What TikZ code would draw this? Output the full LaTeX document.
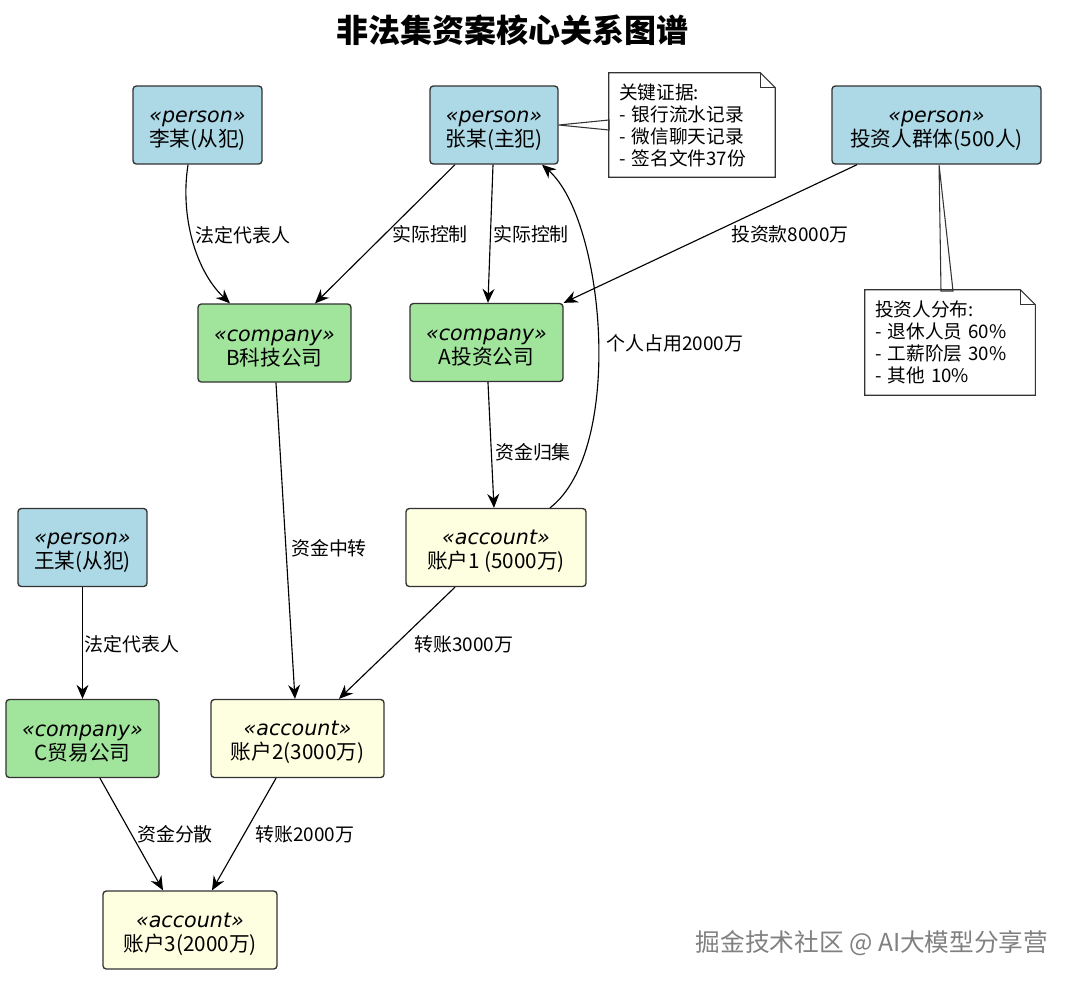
\documentclass[tikz,border=0pt]{standalone}
\usepackage{fontspec}
\setmainfont{DejaVu Sans}
\newfontfamily\cjk{Noto Sans CJK SC}
\usetikzlibrary{arrows.meta}
\definecolor{personfill}{HTML}{ADD8E6}
\definecolor{companyfill}{HTML}{A1E49C}
\definecolor{accountfill}{HTML}{FEFEE0}
\definecolor{boxline}{HTML}{333333}
\tikzset{
  box/.style={draw=boxline, line width=1pt, rounded corners=2.5pt, align=center,
    inner sep=0pt, minimum height=58.5pt, font=\fontsize{15.5}{18}\selectfont},
  personbox/.style={box, fill=personfill},
  companybox/.style={box, fill=companyfill},
  accountbox/.style={box, fill=accountfill},
  wpx/.style={minimum width=#1*0.75pt},
  notebox/.style={align=left, inner xsep=7.5pt, inner ysep=0pt,
    font=\cjk\fontsize{14}{16.5}\selectfont},
  notefrm/.style={draw=boxline, line width=0.8pt, fill=white},
  lbl/.style={font=\cjk\fontsize{14.2}{16}\selectfont, inner sep=0pt},
  link/.style={line width=0.85pt, -{Stealth[length=10.5pt,width=9pt,inset=3.5pt]}},
}
\newcommand{\stereo}[1]{\rule{0pt}{17pt}{\itshape «#1»}}
\begin{document}
\begin{tikzpicture}[x=0.75pt,y=-0.75pt]
  \useasboundingbox (0,0) rectangle (1080,983);
  \node[font=\cjk\bfseries\fontsize{24}{28}\selectfont] (title) at (512,30) {非法集资案核心关系图谱};
  % people
  \node[personbox, wpx=129] (li) at (197.5,125) {\stereo{person}\\{\cjk 李某(从犯)}};
  \node[personbox, wpx=128] (zhang) at (494,125) {\stereo{person}\\{\cjk 张某(主犯)}};
  \node[personbox, wpx=209] (inv) at (936.5,125) {\stereo{person}\\{\cjk 投资人群体(500人)}};
  \node[personbox, wpx=129] (wang) at (82.5,547.5) {\stereo{person}\\{\cjk 王某(从犯)}};
  % companies
  \node[companybox, wpx=153] (bco) at (274.5,343) {\stereo{company}\\{\cjk B科技公司}};
  \node[companybox, wpx=153] (aco) at (486.5,342.5) {\stereo{company}\\{\cjk A投资公司}};
  \node[companybox, wpx=153] (cco) at (82.5,738.5) {\stereo{company}\\{\cjk C贸易公司}};
  % accounts
  \node[accountbox, wpx=180] (acc1) at (496,547.5) {\stereo{account}\\{\cjk 账户1 (5000万)}};
  \node[accountbox, wpx=173] (acc2) at (297.5,738.5) {\stereo{account}\\{\cjk 账户2(3000万)}};
  \node[accountbox, wpx=174] (acc3) at (190,930) {\stereo{account}\\{\cjk 账户3(2000万)}};
  % notes
  \draw[notefrm] (zhang.east) -- (609,120) -- (609,130) -- cycle;
  \draw[notefrm] ([xshift=1.9pt]inv.south) -- (941,291) -- (953,291) -- cycle;
  \node[notebox, text width=109.5pt, minimum height=78pt] (note1) at (692,125)
    {关键证据:\\- 银行流水记录\\- 微信聊天记录\\- 签名文件37份};
  \node[notebox, text width=112.5pt, minimum height=78.75pt] (note2) at (950,342.5)
    {投资人分布:\\- 退休人员 60\%\\- 工薪阶层 30\%\\- 其他 10\%};
  \foreach \n in {note1,note2}{
    \draw[notefrm, fill=none] (\n.south west) -- (\n.north west) -- ([xshift=-11.25pt]\n.north east)
      -- ([yshift=-11.25pt]\n.north east) -- (\n.south east) -- cycle;
    \draw[notefrm, fill=none] ([xshift=-11.25pt]\n.north east) |- ([yshift=-11.25pt]\n.north east);
  }
  % links
  \begin{scope}[link]
    \draw ([xshift=-7.1pt]li.south) .. controls (180,215) and (195,270) .. ([xshift=-33.4pt]bco.north)
      node[lbl] at (243,235) {法定代表人};
    \draw ([xshift=-29.25pt]zhang.south) to ([xshift=30.4pt]bco.north)
      node[lbl] at (430,234) {实际控制};
    \draw ([xshift=-0.75pt]zhang.south) to ([xshift=1.1pt]aco.north)
      node[lbl] at (531,234) {实际控制};
    \draw ([xshift=-59.6pt]inv.south) to (aco.north east)
      node[lbl] at (790,234) {投资款8000万};
    \draw ([xshift=40.5pt]acc1.north) .. controls (625,450) and (605,220) .. ([xshift=36pt]zhang.south)
      node[lbl] at (675,343) {个人占用2000万};
    \draw ([xshift=1.1pt]aco.south) to ([xshift=-1.5pt]acc1.north)
      node[lbl] at (533,452) {资金归集};
    \draw ([xshift=1.1pt]bco.south) to ([xshift=-1.9pt]acc2.north)
      node[lbl] at (329,548) {资金中转};
    \draw (wang.south) to (cco.north)
      node[lbl] at (132,644) {法定代表人};
    \draw ([xshift=-30.75pt]acc1.south) to ([xshift=31.1pt]acc2.north)
      node[lbl] at (464,644) {转账3000万};
    \draw ([xshift=13.1pt]cco.south) to ([xshift=-20.25pt]acc3.north)
      node[lbl] at (175,834) {资金分散};
    \draw ([xshift=-16.1pt]acc2.south) to ([xshift=16.5pt]acc3.north)
      node[lbl] at (305,834) {转账2000万};
  \end{scope}
  \node[font=\cjk\fontsize{18.5}{20}\selectfont, text=black!50] (mark) at (872,943) {掘金技术社区 @ AI大模型分享营};
\end{tikzpicture}
\end{document}
